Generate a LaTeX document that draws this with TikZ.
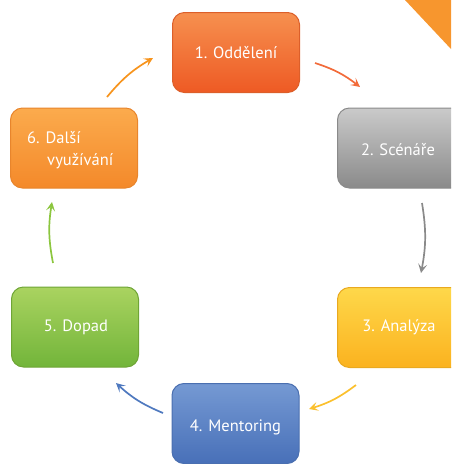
\documentclass[tikz,border=0pt]{standalone}
\usepackage{fontspec}
\setmainfont{PT Sans}
\usetikzlibrary{arrows.meta}
\definecolor{oneT}{HTML}{F6904F}\definecolor{oneB}{HTML}{EE5A24}\definecolor{oneD}{HTML}{DC5F2A}
\definecolor{twoT}{HTML}{CACACA}\definecolor{twoB}{HTML}{8A8A8A}\definecolor{twoD}{HTML}{8A8A8A}
\definecolor{thrT}{HTML}{FED84A}\definecolor{thrB}{HTML}{FBB21F}\definecolor{thrD}{HTML}{E9A920}
\definecolor{fouT}{HTML}{7599D3}\definecolor{fouB}{HTML}{4870B8}\definecolor{fouD}{HTML}{4A6FB0}
\definecolor{fivT}{HTML}{AAD360}\definecolor{fivB}{HTML}{72B53A}\definecolor{fivD}{HTML}{6FA536}
\definecolor{sixT}{HTML}{FBAB4D}\definecolor{sixB}{HTML}{F4892A}\definecolor{sixD}{HTML}{E8852C}
\definecolor{tri}{HTML}{F7962E}
\tikzset{
  stepbox/.style={rectangle, rounded corners=12pt, minimum width=127pt, minimum height=80pt, line width=1pt},
  lbl/.style={text=white, font=\fontsize{16.5}{19}\selectfont, inner sep=0pt},
  cyc/.style={line width=1.7pt, bend left=10, -{Stealth[length=9pt,width=9pt,inset=4pt]}},
}
\begin{document}
\begin{tikzpicture}[x=1pt,y=-1pt]
\useasboundingbox (0,0) rectangle (451,464);
\clip (0,0) rectangle (451,464);
\fill[tri] (405,0) -- (451,0) -- (451,49) -- cycle;
\node[stepbox, draw=oneD, top color=oneT, bottom color=oneB] (b1) at (236,52.5) {};
\node[stepbox, draw=twoD, top color=twoT, bottom color=twoB] (b2) at (401,148) {};
\node[stepbox, draw=thrD, top color=thrT, bottom color=thrB] (b3) at (401,327.5) {};
\node[stepbox, draw=fouD, top color=fouT, bottom color=fouB] (b4) at (235.5,423.5) {};
\node[stepbox, draw=fivD, top color=fivT, bottom color=fivB] (b5) at (75,327) {};
\node[stepbox, draw=sixD, top color=sixT, bottom color=sixB] (b6) at (74,148) {};
\node[lbl] (t1) at (236,53) {1. Oddělení};
\node[lbl] (t2) at (398,150) {2. Scénáře};
\node[lbl] (t3) at (399,327) {3. Analýza};
\node[lbl] (t4) at (235.5,427) {4. Mentoring};
\node[lbl] (t5) at (76,327) {5. Dopad};
\node[lbl, anchor=west] (t6a) at (27,138) {6. Další};
\node[lbl, anchor=west] (t6b) at (47,161) {využívání};
\coordinate (a1s) at (315,63);  \coordinate (a1e) at (360,87);
\coordinate (a2s) at (422,203); \coordinate (a2e) at (421,273);
\coordinate (a3s) at (356,385); \coordinate (a3e) at (309,409);
\coordinate (a4s) at (163,413); \coordinate (a4e) at (116,383);
\coordinate (a5s) at (53,263);  \coordinate (a5e) at (52,202);
\coordinate (a6s) at (107,97);  \coordinate (a6e) at (153,58);
\draw[cyc, color={rgb,255:red,242;green,107;blue,58}] (a1s) to (a1e);
\draw[cyc, color={rgb,255:red,138;green,138;blue,138}] (a2s) to (a2e);
\draw[cyc, color={rgb,255:red,251;green,192;blue,45}] (a3s) to (a3e);
\draw[cyc, color={rgb,255:red,79;green,121;blue,191}] (a4s) to (a4e);
\draw[cyc, color={rgb,255:red,140;green,198;blue,63}] (a5s) to (a5e);
\draw[cyc, color={rgb,255:red,247;green,148;blue,29}] (a6s) to (a6e);
\end{tikzpicture}
\end{document}
